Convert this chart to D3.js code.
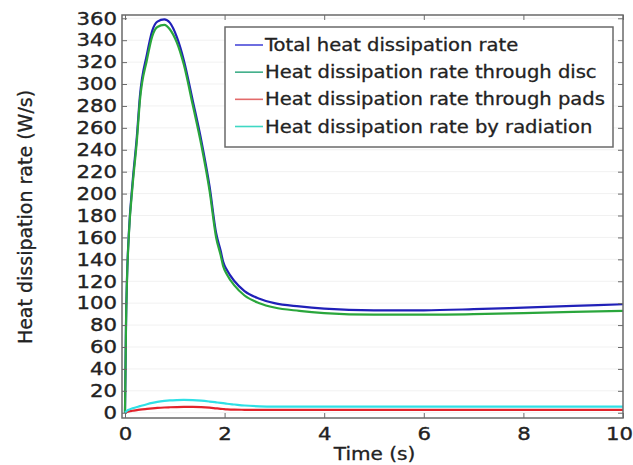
<!DOCTYPE html>
<html>
<head>
<meta charset="utf-8">
<script src="https://cdn.jsdelivr.net/npm/d3@7"></script>
<style>
  html, body { margin: 0; padding: 0; background: #fff; }
  svg { display: block; font-family: "DejaVu Sans", sans-serif; }
</style>
</head>
<body>
<svg id="chart" width="633" height="465"></svg>
<script>
// Sample times (s), shared by all four series
const times = [0, 0.01, 0.02, 0.04, 0.08, 0.15, 0.24, 0.3, 0.44, 0.55, 0.65, 0.79, 0.9,
  1.04, 1.18, 1.36, 1.53, 1.7, 1.83, 1.92, 1.97, 2.05, 2.2, 2.4, 2.7, 3.0, 3.5, 4, 5, 6, 7, 8, 9, 10];

// Heat dissipation rates (W/s)
const totalRate = [0, 40, 80, 122, 166, 209, 253, 289, 327, 349, 357, 359, 356,
  343, 322, 285, 249, 206, 164, 148, 138, 130, 120, 111, 104, 100, 97, 95, 93.5, 93.5, 94.5, 96, 97.5, 99];
const discRate = [0, 38, 78, 120, 164, 206, 249, 285, 322, 344, 352, 354, 350,
  338, 318, 281, 245, 202, 160, 144, 134, 126, 116, 107, 100, 96, 93, 91, 89.5, 89.5, 90, 91, 92, 93];
const padsRate = [0, 0.2, 0.4, 0.7, 1.2, 1.8, 2.4, 2.8, 3.5, 4.0, 4.4, 4.8, 5.0,
  5.2, 5.3, 5.3, 5.1, 4.6, 4.0, 3.6, 3.4, 3.1, 2.8, 2.7, 2.6, 2.6, 2.6, 2.6, 2.6, 2.6, 2.6, 2.6, 2.6, 2.6];
const radiationRate = [0, 0.5, 1, 1.8, 2.8, 4, 5.2, 6, 7.8, 9, 9.9, 10.8, 11.3,
  11.6, 11.7, 11.5, 11.0, 10.2, 9.5, 9.0, 8.7, 8.2, 7.5, 6.6, 5.9, 5.6, 5.5, 5.5, 5.5, 5.5, 5.5, 5.5, 5.5, 5.5];

const seriesNames = [
  "Total heat dissipation rate",
  "Heat dissipation rate through disc",
  "Heat dissipation rate through pads",
  "Heat dissipation rate by radiation"
];
const seriesValues = [totalRate, discRate, padsRate, radiationRate];
const seriesColors = ["#2020b8", "#2aa63c", "#e3232b", "#2fe0e6"];
const legendColors = ["#4a4ad8", "#3fae88", "#e36a6a", "#3fd8c4"];

const xTicks = [0, 2, 4, 6, 8, 10];
const yTicks = d3.range(0, 361, 20);

const xLabel = "Time (s)";
const yLabel = "Heat dissipation rate (W/s)";

const svg = d3.select("#chart");
const plot = { left: 122, right: 623, top: 15, bottom: 418 };
const textColor = "#222";
const wide = 1.18; // horizontal widening applied to the text glyphs

const x = d3.scaleLinear().domain([-0.06, 10]).range([plot.left, plot.right]);
const y = d3.scaleLinear().domain([-4.8, 363]).range([plot.bottom, plot.top]);

// faint horizontal grid
svg.append("g")
  .selectAll("line")
  .data(yTicks)
  .join("line")
  .attr("x1", plot.left).attr("x2", plot.right)
  .attr("y1", d => y(d)).attr("y2", d => y(d))
  .attr("stroke", "#f1f1f1").attr("stroke-width", 1);

// curves
const line = d3.line()
  .x((d, i) => x(times[i]))
  .y(d => y(d))
  .curve(d3.curveMonotoneX);

const curves = svg.append("g");
seriesValues.forEach((vals, k) => {
  curves.append("path")
    .datum(vals)
    .attr("d", line)
    .attr("fill", "none")
    .attr("stroke", seriesColors[k])
    .attr("stroke-width", 2.2)
    .attr("stroke-linejoin", "round");
});

// axes with inward ticks on all four sides
const tickLen = 5;
const frameColor = "#6a6a6a";
const bottomAxis = d3.axisBottom(x).tickValues(xTicks).tickSize(-tickLen).tickFormat(d3.format("d"));
const topAxis = d3.axisTop(x).tickValues(xTicks).tickSize(-tickLen).tickFormat("");
const leftAxis = d3.axisLeft(y).tickValues(yTicks).tickSize(-tickLen).tickFormat(d3.format("d"));
const rightAxis = d3.axisRight(y).tickValues(yTicks).tickSize(-tickLen).tickFormat("");

function styleAxis(g) {
  g.select(".domain").remove();
  g.selectAll(".tick line").attr("stroke", frameColor).attr("stroke-width", 1);
  g.selectAll(".tick text")
    .attr("fill", textColor)
    .attr("stroke", textColor)
    .attr("stroke-width", 0.35)
    .style("font-size", "18px")
    .style("font-family", "'DejaVu Sans', sans-serif");
}

const gBottom = svg.append("g").attr("transform", `translate(0,${plot.bottom})`).call(bottomAxis).call(styleAxis);
gBottom.selectAll(".tick text")
  .attr("y", 0).attr("dy", null)
  .attr("transform", d => `translate(${d === 10 ? -4 : 0},22) scale(${wide},1)`);

svg.append("g").attr("transform", `translate(0,${plot.top})`).call(topAxis).call(styleAxis);

const gLeft = svg.append("g").attr("transform", `translate(${plot.left},0)`).call(leftAxis).call(styleAxis);
gLeft.selectAll(".tick text")
  .attr("x", 0)
  .attr("transform", `translate(-5,0) scale(${wide},1)`);

svg.append("g").attr("transform", `translate(${plot.right},0)`).call(rightAxis).call(styleAxis);

// frame
svg.append("rect")
  .attr("x", plot.left).attr("y", plot.top)
  .attr("width", plot.right - plot.left).attr("height", plot.bottom - plot.top)
  .attr("fill", "none").attr("stroke", frameColor).attr("stroke-width", 1.5);

// axis titles
svg.append("text")
  .attr("transform", `translate(${(plot.left + plot.right) / 2 + 2},460) scale(${wide},1)`)
  .attr("text-anchor", "middle")
  .attr("fill", textColor)
  .attr("stroke", textColor).attr("stroke-width", 0.3)
  .style("font-size", "17px")
  .text(xLabel);

svg.append("text")
  .attr("transform", `translate(32,217) rotate(-90)`)
  .attr("text-anchor", "middle")
  .attr("fill", textColor)
  .attr("stroke", textColor).attr("stroke-width", 0.3)
  .style("font-size", "19px")
  .text(yLabel);

// legend
const legend = svg.append("g");
legend.append("rect")
  .attr("x", 225).attr("y", 27)
  .attr("width", 388).attr("height", 120)
  .attr("fill", "#fff").attr("stroke", "#6a6a6a").attr("stroke-width", 1.5);

const rowY = d3.scaleLinear().domain([0, 3]).range([45, 126.5]);
seriesNames.forEach((name, k) => {
  legend.append("line")
    .attr("x1", 235).attr("x2", 263)
    .attr("y1", rowY(k)).attr("y2", rowY(k))
    .attr("stroke", legendColors[k]).attr("stroke-width", 1.6);
  legend.append("text")
    .attr("transform", `translate(265,${rowY(k)}) scale(1.15,1)`)
    .attr("dy", "0.36em")
    .attr("fill", textColor)
    .attr("stroke", textColor).attr("stroke-width", 0.3)
    .style("font-size", "17px")
    .text(name);
});
</script>
</body>
</html>
